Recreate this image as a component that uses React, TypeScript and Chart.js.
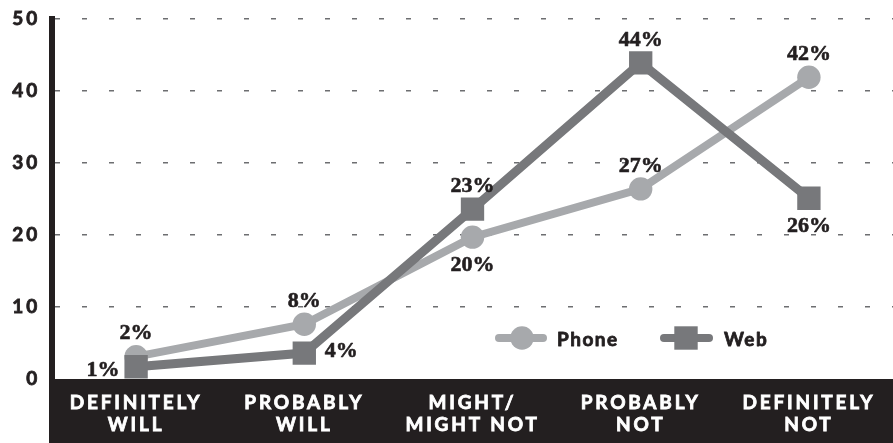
import React, { useEffect, useRef } from "react";
import { Chart, registerables } from "chart.js";

Chart.register(...registerables);

const categories: string[][] = [
  ["DEFINITELY", "WILL"],
  ["PROBABLY", "WILL"],
  ["MIGHT/", "MIGHT NOT"],
  ["PROBABLY", "NOT"],
  ["DEFINITELY", "NOT"],
];
const phoneValues = [3.1, 7.6, 19.7, 26.4, 41.9];
const webValues = [1.7, 3.6, 23.6, 43.9, 25.1];
const phoneLabels = ["2%", "8%", "20%", "27%", "42%"];
const webLabels = ["1%", "4%", "23%", "44%", "26%"];
const phonePlacement = ["above", "above", "below", "above", "above"];
const webPlacement = ["left", "right", "above", "above", "below"];
const yTicks = [0, 10, 20, 30, 40, 50];

const PHONE = "#a7a9ac";
const WEB = "#77787b";
const INK = "#231f20";
const SANS = "Lato, 'Open Sans', sans-serif";
const SERIF = "'Liberation Serif', 'DejaVu Serif', serif";

const offsets: Record<string, [number, number]> = {
  above: [0, -23],
  below: [0, 28],
  left: [-33, 4],
  right: [37, -2],
};

const decorPlugin = {
  id: "decor",
  beforeDraw(chart: any) {
    const { ctx, chartArea } = chart;
    ctx.save();
    ctx.fillStyle = INK;
    ctx.fillRect(chartArea.left - 3, chartArea.bottom, chart.width - (chartArea.left - 3), chart.height - chartArea.bottom);
    ctx.restore();
    ctx.letterSpacing = "2.8px";
  },
  beforeDatasetsDraw(chart: any) {
    chart.ctx.letterSpacing = "0px";
  },
  afterDraw(chart: any) {
    const { ctx } = chart;
    ctx.save();
    ctx.letterSpacing = "0px";
    // data labels
    ctx.font = `bold 22px ${SERIF}`;
    ctx.fillStyle = INK;
    ctx.strokeStyle = INK;
    ctx.lineWidth = 0.6;
    ctx.lineJoin = "round";
    ctx.textAlign = "center";
    ctx.textBaseline = "middle";
    const sets = [
      { meta: chart.getDatasetMeta(0), labels: phoneLabels, place: phonePlacement },
      { meta: chart.getDatasetMeta(1), labels: webLabels, place: webPlacement },
    ];
    sets.forEach(({ meta, labels, place }) => {
      meta.data.forEach((pt: any, i: number) => {
        const [dx, dy] = offsets[place[i]];
        ctx.fillText(labels[i], pt.x + dx, pt.y + dy);
        ctx.strokeText(labels[i], pt.x + dx, pt.y + dy);
      });
    });

    // legend
    const ly = 338;
    ctx.lineCap = "round";
    ctx.lineWidth = 8;
    ctx.strokeStyle = PHONE;
    ctx.beginPath();
    ctx.moveTo(499, ly);
    ctx.lineTo(543, ly);
    ctx.stroke();
    ctx.fillStyle = PHONE;
    ctx.beginPath();
    ctx.arc(522, ly, 11.7, 0, Math.PI * 2);
    ctx.fill();

    ctx.strokeStyle = WEB;
    ctx.beginPath();
    ctx.moveTo(664, ly);
    ctx.lineTo(709, ly);
    ctx.stroke();
    ctx.fillStyle = WEB;
    ctx.fillRect(686 - 11.7, ly - 11.7, 23.4, 23.4);

    ctx.fillStyle = INK;
    ctx.strokeStyle = INK;
    ctx.lineWidth = 0.8;
    ctx.font = `bold 19px ${SANS}`;
    ctx.letterSpacing = "1.5px";
    ctx.textAlign = "left";
    ctx.textBaseline = "middle";
    ctx.fillText("Phone", 557, ly + 2);
    ctx.strokeText("Phone", 557, ly + 2);
    ctx.fillText("Web", 724, ly + 2);
    ctx.strokeText("Web", 724, ly + 2);
    ctx.restore();
  },
};

export default function App() {
  const ref = useRef<HTMLCanvasElement | null>(null);

  useEffect(() => {
    document.body.style.margin = "0";
    const canvas = ref.current;
    if (!canvas) return;
    const chart = new Chart(canvas, {
      type: "line",
      data: {
        labels: categories,
        datasets: [
          {
            label: "Phone",
            data: phoneValues,
            borderColor: PHONE,
            backgroundColor: PHONE,
            borderWidth: 8,
            pointStyle: "circle",
            pointRadius: 11.7,
            pointBorderWidth: 0,
            pointBackgroundColor: PHONE,
            tension: 0,
            order: 2,
          },
          {
            label: "Web",
            data: webValues,
            borderColor: WEB,
            backgroundColor: WEB,
            borderWidth: 9,
            pointStyle: "rect",
            pointRadius: 16.5,
            pointBorderWidth: 0,
            pointBackgroundColor: WEB,
            tension: 0,
            order: 1,
          },
        ],
      },
      options: {
        responsive: false,
        animation: false,
        layout: { autoPadding: false, padding: { top: 19, left: 0, right: 0, bottom: 0 } },
        plugins: {
          legend: { display: false },
          tooltip: { enabled: false },
        },
        scales: {
          x: {
            offset: true,
            grid: { display: false },
            border: { display: false },
            ticks: {
              color: "#ffffff",
              textStrokeColor: "#ffffff",
              textStrokeWidth: 0.8,
              font: { family: SANS, size: 19, weight: "bold", lineHeight: 1.2 },
              padding: 4,
              autoSkip: false,
              maxRotation: 0,
              minRotation: 0,
            },
            afterFit: (scale: any) => {
              scale.height = 64;
              scale.paddingLeft = 0;
              scale.paddingRight = 0;
            },
          },
          y: {
            min: 0,
            max: 50,
            afterBuildTicks: (scale: any) => {
              scale.ticks = yTicks.map((v) => ({ value: v }));
            },
            grid: {
              color: (c: any) => (c.tick && c.tick.value === 0 ? "rgba(0,0,0,0)" : "#6d6e71"),
              lineWidth: 1.5,
              drawTicks: false,
            },
            border: { display: true, color: INK, width: 6, dash: [5, 22] as any },
            ticks: {
              color: INK,
              textStrokeColor: INK,
              textStrokeWidth: 0.8,
              font: { family: SANS, size: 19, weight: "bold" },
              padding: 12,
            },
            afterFit: (scale: any) => {
              scale.width = 52;
              scale.paddingTop = 0;
              scale.paddingBottom = 0;
            },
          },
        },
      },
      plugins: [decorPlugin],
    } as any);
    return () => chart.destroy();
  }, []);

  return (
    <div style={{ width: 893, height: 443 }}>
      <canvas ref={ref} width={893} height={443} style={{ display: "block" }} />
    </div>
  );
}
